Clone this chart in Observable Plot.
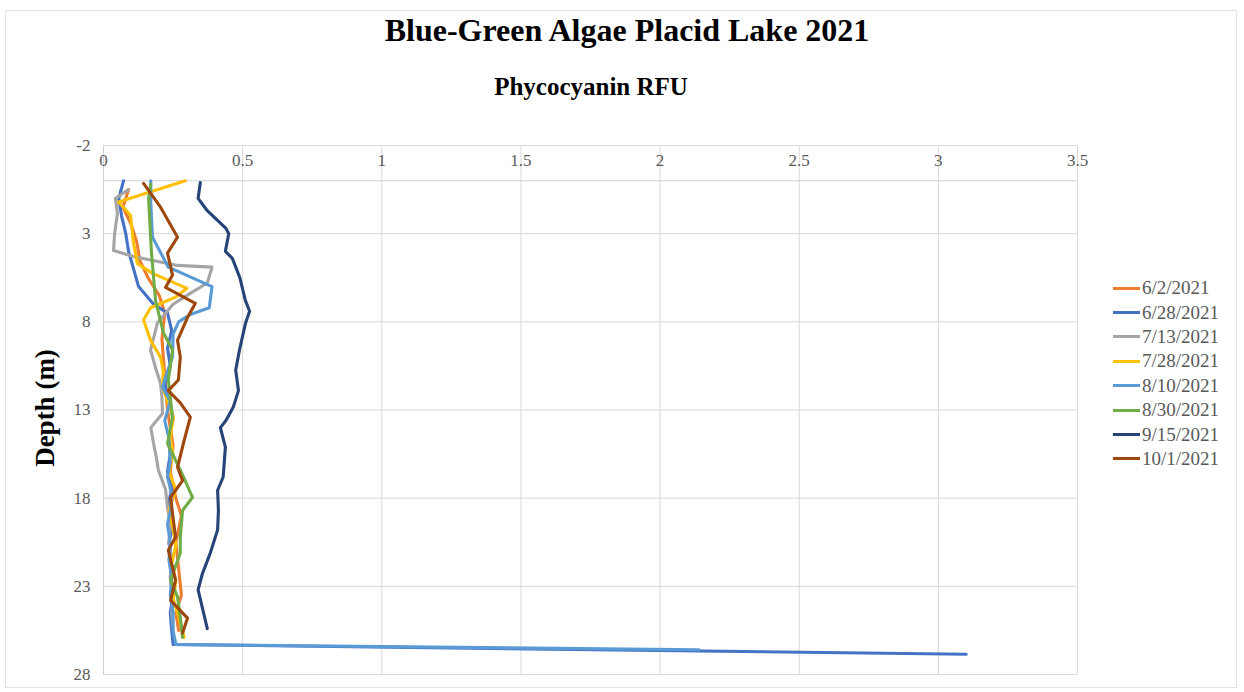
<!DOCTYPE html>
<html>
<head>
<meta charset="utf-8">
<script src="https://cdn.jsdelivr.net/npm/d3@7"></script>
<script src="https://cdn.jsdelivr.net/npm/@observablehq/plot@0.6"></script>
<style>
  body { margin: 0; background: #fff; }
  #wrap { position: relative; width: 1244px; height: 692px; overflow: hidden;
          font-family: "Liberation Serif", "Times New Roman", serif; }
  #frame { position: absolute; left: 5px; top: 10px; width: 1232px; height: 678px;
           border: 1px solid #E3E3E3; box-sizing: border-box; }
  #chart { position: absolute; left: 0; top: 0; }
  #title { position: absolute; left: 0; width: 1254px; top: 14px; text-align: center;
           font-weight: bold; font-size: 32px; line-height: 1; color: #000; }
  #subtitle { position: absolute; left: 0; width: 1182px; top: 74px; text-align: center;
              font-weight: bold; font-size: 25px; line-height: 1; color: #000; }
  #ylabel { position: absolute; left: 45px; top: 408px; transform: translate(-50%, -50%) rotate(-90deg);
            font-weight: bold; font-size: 27px; line-height: 1; white-space: nowrap; color: #000; }
  #legend { position: absolute; left: 1113px; top: 276px; font-size: 19px; color: #595959; }
  .item { height: 24.4px; display: flex; align-items: center; white-space: nowrap; }
  .swatch { display: inline-block; width: 27px; height: 3px; margin-right: 2px; }
</style>
</head>
<body>
<div id="wrap">
  <div id="frame"></div>
  <div id="chart"></div>
  <div id="title">Blue-Green Algae Placid Lake 2021</div>
  <div id="subtitle">Phycocyanin RFU</div>
  <div id="ylabel">Depth (m)</div>
  <div id="legend"></div>
</div>
<script>
// ---- Data ----
const dates = ["6/2/2021", "6/28/2021", "7/13/2021", "7/28/2021", "8/10/2021", "8/30/2021", "9/15/2021", "10/1/2021"];
const colors = ["#ED7D31", "#4472C4", "#A5A5A5", "#FFC000", "#5B9BD5", "#70AD47", "#264478", "#9E480E"];

const xTicks = [0, 0.5, 1, 1.5, 2, 2.5, 3, 3.5];
const yTicks = [-2, 3, 8, 13, 18, 23, 28];

const depth_0602 = [0.5, 1.5, 2.5, 3.5, 4.5, 5.5, 6.5, 7.5, 9, 11, 13, 15, 16.5, 18, 19, 20.5, 22, 23.5, 24.5, 25.5];
const pc_0602    = [0.09, 0.07, 0.10, 0.12, 0.13, 0.16, 0.20, 0.22, 0.21, 0.22, 0.23, 0.25, 0.24, 0.26, 0.28, 0.26, 0.27, 0.28, 0.26, 0.27];

const depth_0628 = [0, 1, 2, 3, 4, 5, 6, 7, 7.5, 8.5, 9.5, 10.5, 11.5, 12.5, 13.5, 14.5, 15.5, 16.5, 17.5, 18.5, 19.5, 20.5, 21.5, 22.5, 23.5, 24.5, 25.5, 26.3, 26.85];
const pc_0628    = [0.072, 0.055, 0.065, 0.08, 0.09, 0.108, 0.126, 0.18, 0.23, 0.245, 0.23, 0.24, 0.22, 0.235, 0.25, 0.235, 0.24, 0.23, 0.245, 0.23, 0.25, 0.235, 0.245, 0.24, 0.25, 0.24, 0.245, 0.25, 3.1];

const depth_0713 = [0.5, 1, 1.85, 3, 3.95, 4.3, 4.8, 4.9, 5.8, 6.4, 7.0, 8.05, 9.6, 10.6, 11.5, 12.3, 13.2, 14.0, 14.9, 15.7, 16.4, 17.5, 18.5, 19.5, 20.5, 21.5, 22.5, 23.5, 24.5, 25.3];
const pc_0713    = [0.09, 0.043, 0.05, 0.04, 0.036, 0.108, 0.266, 0.39, 0.373, 0.31, 0.25, 0.194, 0.169, 0.187, 0.205, 0.21, 0.212, 0.17, 0.18, 0.19, 0.197, 0.223, 0.23, 0.24, 0.235, 0.245, 0.24, 0.25, 0.245, 0.25];

const depth_0728 = [0, 1.2, 1.96, 3.55, 4.7, 5.25, 6.1, 6.6, 7.2, 7.9, 9.05, 10.0, 10.75, 11.7, 12.6, 13.4, 14.5, 15.5, 16.5, 17.5, 18.7, 19.7, 20.7, 21.7, 22.7, 23.7, 24.7, 25.9];
const pc_0728    = [0.294, 0.054, 0.097, 0.108, 0.122, 0.176, 0.30, 0.259, 0.169, 0.144, 0.169, 0.205, 0.215, 0.212, 0.233, 0.251, 0.24, 0.25, 0.235, 0.26, 0.235, 0.25, 0.26, 0.245, 0.26, 0.25, 0.27, 0.29];

const depth_0810 = [0, 1.3, 3.2, 4.9, 6.0, 7.2, 7.6, 8.0, 8.7, 10.0, 10.8, 11.7, 12.5, 13.6, 14.6, 15.9, 16.8, 17.8, 18.7, 19.5, 20.5, 21.5, 22.5, 23.5, 24.5, 25.5, 26.3, 26.6];
const pc_0810    = [0.17, 0.17, 0.176, 0.233, 0.39, 0.38, 0.31, 0.27, 0.25, 0.248, 0.23, 0.212, 0.24, 0.22, 0.235, 0.24, 0.23, 0.245, 0.24, 0.23, 0.24, 0.235, 0.245, 0.24, 0.25, 0.25, 0.26, 2.14];

const depth_0830 = [0.2, 1, 4, 6.8, 8.6, 9.6, 11.3, 13.4, 14.9, 16.4, 17.95, 18.7, 20.2, 21.1, 22.65, 23.6, 24.75, 25.9];
const pc_0830    = [0.17, 0.162, 0.172, 0.187, 0.215, 0.248, 0.233, 0.248, 0.23, 0.276, 0.32, 0.284, 0.276, 0.276, 0.241, 0.266, 0.276, 0.284];

const depth_0915 = [0.1, 1.0, 1.7, 2.7, 3.0, 4.0, 4.4, 5.5, 6.8, 7.4, 8.1, 9.5, 9.9, 10.75, 11.9, 12.85, 13.6, 14.0, 15.1, 16.8, 17.55, 18.7, 19.8, 21.1, 22.3, 23.2, 24.2, 25.4];
const pc_0915    = [0.348, 0.34, 0.373, 0.44, 0.45, 0.438, 0.463, 0.49, 0.51, 0.525, 0.51, 0.49, 0.485, 0.475, 0.485, 0.466, 0.44, 0.42, 0.438, 0.43, 0.41, 0.413, 0.41, 0.384, 0.355, 0.34, 0.355, 0.373];

const depth_1001 = [0.15, 1.5, 3.2, 4.1, 5.35, 6.05, 6.95, 7.75, 9.05, 10.0, 11.3, 11.9, 12.6, 13.4, 14.9, 16.25, 17.0, 17.95, 19.25, 20.2, 20.95, 22.65, 23.8, 24.8, 25.65];
const pc_1001    = [0.144, 0.205, 0.266, 0.23, 0.248, 0.223, 0.33, 0.302, 0.266, 0.276, 0.269, 0.233, 0.276, 0.312, 0.287, 0.266, 0.284, 0.241, 0.251, 0.259, 0.233, 0.259, 0.241, 0.302, 0.284];

const depths = [depth_0602, depth_0628, depth_0713, depth_0728, depth_0810, depth_0830, depth_0915, depth_1001];
const values = [pc_0602, pc_0628, pc_0713, pc_0728, pc_0810, pc_0830, pc_0915, pc_1001];

// ---- Build table ----
const rows = [];
dates.forEach((date, i) => {
  depths[i].forEach((d, j) => rows.push({date, depth: d, value: values[i][j]}));
});

const fmt = d => String(d);

const chart = Plot.plot({
  width: 1244,
  height: 692,
  marginLeft: 103,
  marginRight: 167,
  marginTop: 145,
  marginBottom: 18,
  x: {domain: [0, 3.5]},
  y: {domain: [-2, 28], reverse: true},
  color: {domain: dates, range: colors},
  style: {fontFamily: '"Liberation Serif", "Times New Roman", serif', fontSize: "17px", color: "#595959", background: "transparent", overflow: "visible"},
  marks: [
    Plot.gridX(xTicks, {stroke: "#D9D9D9", strokeOpacity: 1, strokeWidth: 1}),
    Plot.gridY(yTicks, {stroke: "#D9D9D9", strokeOpacity: 1, strokeWidth: 1}),
    Plot.ruleY([0], {stroke: "#D0D0D0", strokeWidth: 1}),
    Plot.ruleX([0], {stroke: "#D0D0D0", strokeWidth: 1}),
    Plot.axisX(xTicks, {anchor: "top", tickSize: 0, tickPadding: 0, dy: 20, tickFormat: fmt, label: null, fill: "#595959"}),
    Plot.axisY(yTicks, {anchor: "left", tickSize: 0, tickPadding: 13, tickFormat: fmt, label: null, fill: "#595959"}),
    Plot.line(rows, {x: "value", y: "depth", z: "date", stroke: "date", strokeWidth: 3.1, strokeLinejoin: "round", strokeLinecap: "round"})
  ]
});
document.getElementById("chart").appendChild(chart);

// ---- Legend ----
const legend = document.getElementById("legend");
dates.forEach((date, i) => {
  const item = document.createElement("div");
  item.className = "item";
  const sw = document.createElement("span");
  sw.className = "swatch";
  sw.style.background = colors[i];
  const lab = document.createElement("span");
  lab.textContent = date;
  item.appendChild(sw);
  item.appendChild(lab);
  legend.appendChild(item);
});
</script>
</body>
</html>
